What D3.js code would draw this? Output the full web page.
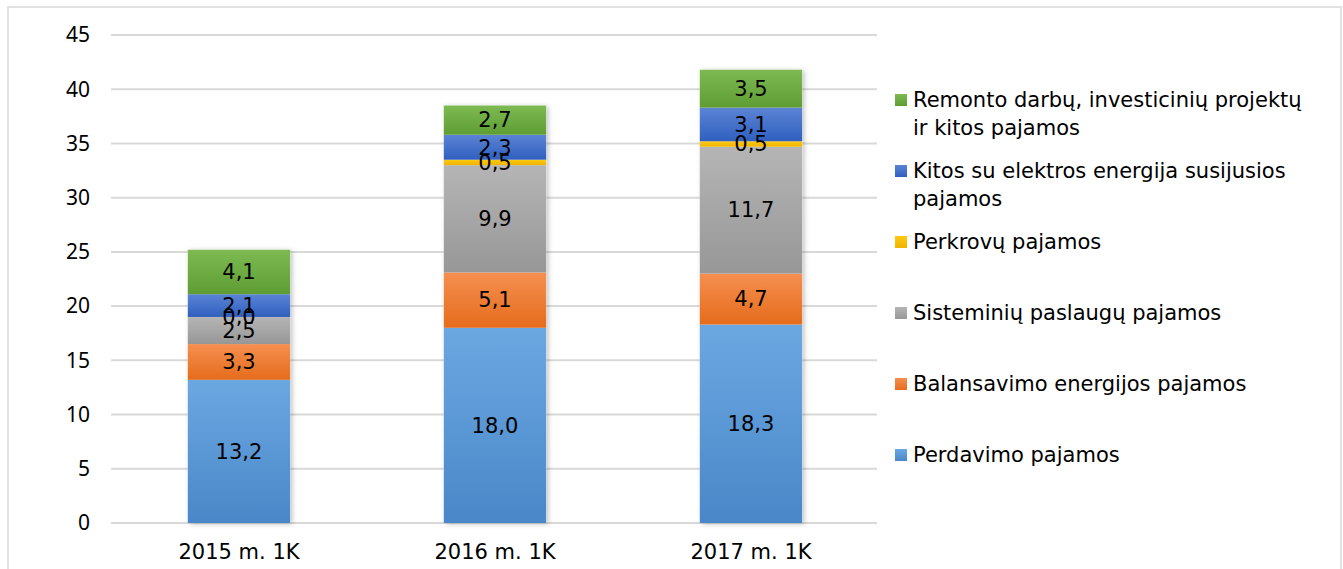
<!DOCTYPE html>
<meta charset="utf-8">
<style>
html,
body {
    margin: 0;
    padding: 0;
    overflow: hidden;
    background: #fff;
}

svg {
    display: block;
}

.frame {
    fill: none;
    stroke: #d9d9d9;
    stroke-width: 1.5px;
}

.grid line {
    stroke: #d9d9d9;
    stroke-width: 2px;
}

.ytick text {
    font-family: "Noto Sans", sans-serif;
    font-size: 21px;
    fill: #000;
}

.xtick text,
.seg-label,
.legend text {
    font-family: "DejaVu Sans", sans-serif;
    font-size: 21px;
    fill: #000;
}
</style>
<svg></svg>
<script src="https://d3js.org/d3.v7.min.js"></script>
<script>
// data
var categories = ["2015 m. 1K", "2016 m. 1K", "2017 m. 1K"];
var seriesNames = [
    "Perdavimo pajamos",
    "Balansavimo energijos pajamos",
    "Sisteminių paslaugų pajamos",
    "Perkrovų pajamos",
    "Kitos su elektros energija susijusios pajamos",
    "Remonto darbų, investicinių projektų ir kitos pajamos"
];
var perdavimo = [13.2, 18.0, 18.3];
var balansavimo = [3.3, 5.1, 4.7];
var sisteminiu = [2.5, 9.9, 11.7];
var perkrovu = [0.0, 0.5, 0.5];
var kitosElektros = [2.1, 2.3, 3.1];
var remonto = [4.1, 2.7, 3.5];
var yTicks = [0, 5, 10, 15, 20, 25, 30, 35, 40, 45];

var legendLines = [
    ["Perdavimo pajamos"],
    ["Balansavimo energijos pajamos"],
    ["Sisteminių paslaugų pajamos"],
    ["Perkrovų pajamos"],
    ["Kitos su elektros energija susijusios", "pajamos"],
    ["Remonto darbų, investicinių projektų", "ir kitos pajamos"]
];

// gradient stops: top, bottom
var colors = [
    ["#6ba8e2", "#4a87c8"],
    ["#f58f50", "#e56c1c"],
    ["#b5b5b5", "#979797"],
    ["#ffc912", "#f0b400"],
    ["#5b84d4", "#2f5fbf"],
    ["#7dba52", "#5e9c34"]
];

var width = 1343;
var height = 569;

var svg = d3.select("svg")
    .attr("width", width)
    .attr("height", height);

var defs = svg.append("defs");
colors.forEach(function(c, i) {
    var g = defs.append("linearGradient")
        .attr("id", "grad" + i)
        .attr("x1", 0).attr("y1", 0)
        .attr("x2", 0).attr("y2", 1);
    g.append("stop").attr("offset", "0%").attr("stop-color", c[0]);
    g.append("stop").attr("offset", "100%").attr("stop-color", c[1]);
});

var shadow = defs.append("filter")
    .attr("id", "shadow")
    .attr("x", "-10%").attr("y", "-10%")
    .attr("width", "130%").attr("height", "130%");
shadow.append("feDropShadow")
    .attr("dx", 2).attr("dy", 1)
    .attr("stdDeviation", 2.5)
    .attr("flood-color", "#000")
    .attr("flood-opacity", 0.25);

svg.append("rect")
    .attr("class", "frame")
    .attr("x", 8)
    .attr("y", 7)
    .attr("width", 1333)
    .attr("height", 580);

var x = d3.scaleBand()
    .domain(categories)
    .range([111, 879])
    .paddingInner(0.6)
    .paddingOuter(0.3);

var y = d3.scaleLinear()
    .domain([0, 45])
    .range([523, 35]);

// gridlines
svg.append("g")
    .attr("class", "grid")
    .selectAll("line")
    .data(yTicks)
    .enter().append("line")
    .attr("x1", 111)
    .attr("x2", 877)
    .attr("y1", function(d) { return y(d); })
    .attr("y2", function(d) { return y(d); });

// y labels
svg.append("g")
    .attr("class", "ytick")
    .selectAll("text")
    .data(yTicks)
    .enter().append("text")
    .attr("x", 90)
    .attr("y", function(d) { return y(d); })
    .attr("dy", "0.35em")
    .attr("text-anchor", "end")
    .text(function(d) { return d; });

// x labels
svg.append("g")
    .attr("class", "xtick")
    .selectAll("text")
    .data(categories)
    .enter().append("text")
    .attr("x", function(d) { return x(d) + x.bandwidth() / 2; })
    .attr("y", 552)
    .attr("dy", "0.35em")
    .attr("text-anchor", "middle")
    .text(function(d) { return d; });

// stacked data
var rows = categories.map(function(c, i) {
    return {
        cat: c,
        s0: perdavimo[i],
        s1: balansavimo[i],
        s2: sisteminiu[i],
        s3: perkrovu[i],
        s4: kitosElektros[i],
        s5: remonto[i]
    };
});
var keys = ["s0", "s1", "s2", "s3", "s4", "s5"];
var stacked = d3.stack().keys(keys)(rows);

// bar shadows (whole bar)
svg.append("g")
    .selectAll("rect")
    .data(rows)
    .enter().append("rect")
    .attr("x", function(d) { return x(d.cat); })
    .attr("width", x.bandwidth())
    .attr("y", function(d) {
        return y(d.s0 + d.s1 + d.s2 + d.s3 + d.s4 + d.s5);
    })
    .attr("height", function(d) {
        return y(0) - y(d.s0 + d.s1 + d.s2 + d.s3 + d.s4 + d.s5);
    })
    .attr("fill", "#fff")
    .attr("filter", "url(#shadow)");

var layers = svg.append("g")
    .selectAll("g")
    .data(stacked)
    .enter().append("g")
    .attr("fill", function(d, i) { return "url(#grad" + i + ")"; });

layers.selectAll("rect")
    .data(function(d) { return d; })
    .enter().append("rect")
    .attr("x", function(d) { return x(d.data.cat); })
    .attr("width", x.bandwidth())
    .attr("y", function(d) { return y(d[1]); })
    .attr("height", function(d) { return y(d[0]) - y(d[1]); });

// segment labels
var labels = [];
stacked.forEach(function(layer) {
    layer.forEach(function(d) {
        labels.push({
            cat: d.data.cat,
            mid: (d[0] + d[1]) / 2,
            v: d[1] - d[0]
        });
    });
});

var fmt = function(v) { return d3.format(".1f")(v).replace(".", ","); };

svg.append("g")
    .selectAll("text")
    .data(labels)
    .enter().append("text")
    .attr("class", "seg-label")
    .attr("x", function(d) { return x(d.cat) + x.bandwidth() / 2; })
    .attr("y", function(d) { return y(d.mid); })
    .attr("dy", "0.35em")
    .attr("text-anchor", "middle")
    .text(function(d) { return fmt(d.v); });

// legend (top entry first)
var legendY = [455, 384, 313, 242, 171, 100];
var legend = svg.append("g")
    .attr("class", "legend")
    .selectAll("g")
    .data(legendLines)
    .enter().append("g")
    .attr("transform", function(d, i) {
        return "translate(895," + legendY[i] + ")";
    });

legend.append("rect")
    .attr("x", 0)
    .attr("y", -6)
    .attr("width", 12)
    .attr("height", 12)
    .attr("fill", function(d, i) { return "url(#grad" + i + ")"; });

legend.append("text")
    .selectAll("tspan")
    .data(function(d) { return d; })
    .enter().append("tspan")
    .attr("x", 18)
    .attr("y", function(d, j) { return j * 28; })
    .attr("dy", "0.35em")
    .text(function(d) { return d; });
</script>
